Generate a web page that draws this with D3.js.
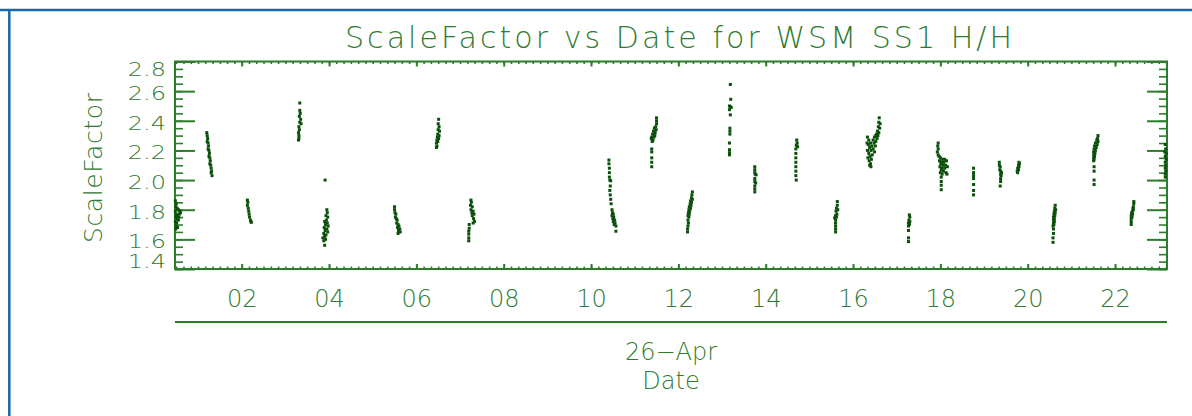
<html>
<head>
  <title>ScaleFactor vs Date for WSM SS1 H/H</title>
  <script src="https://d3js.org/d3.v7.min.js"></script>
  <style>
  body { margin: 0; background: #fff; }
  text {
    font-family: "DejaVu Sans", sans-serif;
    font-weight: 200;
    fill: #2f7a2f;
  }
  .frame { stroke: #1b67a6; stroke-width: 2.5px; fill: none; }
  .box { stroke: #2b7d2b; stroke-width: 2px; fill: none; }
  .ticks line { stroke: #2b7d2b; stroke-width: 1.6px; }
  .major line { stroke-width: 2px; }
  .ticks path { display: none; }
  .pt { fill: #0a500a; }
  </style>
</head>
<body>
<svg id="chart" width="1192" height="416"></svg>
<script>
// hour of day on 26-Apr, ScaleFactor  (one array per satellite pass)
const passA = [[0.48,1.86],[0.50,1.84],[0.49,1.82],[0.52,1.81],[0.48,1.79],[0.55,1.80],[0.58,1.79],[0.50,1.77],[0.53,1.76],[0.57,1.77],[0.49,1.75],[0.52,1.74],[0.55,1.73],[0.48,1.72],[0.51,1.71],[0.50,1.69],[0.53,1.68],[0.49,1.67],[0.60,1.78],[0.56,1.75]];
const passB = [[1.20,2.32],[1.21,2.30],[1.22,2.28],[1.21,2.26],[1.23,2.25],[1.24,2.23],[1.23,2.21],[1.25,2.20],[1.26,2.18],[1.25,2.16],[1.27,2.15],[1.28,2.13],[1.27,2.11],[1.29,2.10],[1.30,2.08],[1.31,2.06],[1.30,2.05],[1.32,2.03]];
const passC = [[2.13,1.865],[2.14,1.85],[2.13,1.83],[2.15,1.81],[2.16,1.79],[2.17,1.77],[2.18,1.75],[2.20,1.73],[2.21,1.72],[2.22,1.715]];
const passD = [[3.33,2.52],[3.33,2.47],[3.34,2.45],[3.32,2.43],[3.35,2.41],[3.33,2.39],[3.36,2.38],[3.31,2.36],[3.32,2.34],[3.30,2.32],[3.31,2.30],[3.31,2.28],[3.30,2.27]];
const passE = [[3.91,2.00]];
const passF = [[3.95,1.80],[3.96,1.78],[3.93,1.76],[3.97,1.75],[3.94,1.73],[3.90,1.72],[3.96,1.71],[3.92,1.70],[3.98,1.69],[3.89,1.68],[3.95,1.67],[3.91,1.66],[3.97,1.65],[3.88,1.64],[3.93,1.63],[3.90,1.62],[3.86,1.61],[3.92,1.60],[3.88,1.59],[3.90,1.56]];
const passG = [[5.50,1.82],[5.50,1.80],[5.51,1.78],[5.53,1.77],[5.52,1.75],[5.54,1.74],[5.56,1.73],[5.55,1.71],[5.58,1.70],[5.60,1.69],[5.57,1.68],[5.62,1.67],[5.59,1.66],[5.63,1.65],[5.58,1.64]];
const passH = [[6.51,2.41],[6.50,2.38],[6.52,2.36],[6.50,2.34],[6.53,2.33],[6.49,2.31],[6.52,2.30],[6.48,2.29],[6.51,2.28],[6.47,2.27],[6.49,2.26],[6.46,2.25],[6.47,2.23],[6.46,2.22]];
const passI = [[7.25,1.865],[7.26,1.85],[7.24,1.83],[7.28,1.82],[7.25,1.80],[7.30,1.79],[7.27,1.78],[7.32,1.77],[7.28,1.76],[7.31,1.74],[7.33,1.72],[7.30,1.71],[7.21,1.70],[7.21,1.675],[7.20,1.655],[7.20,1.635],[7.20,1.61],[7.20,1.59]];
const passJ = [[10.41,2.135],[10.41,2.11],[10.42,2.08],[10.42,2.05],[10.42,2.02],[10.43,2.00],[10.45,1.995],[10.44,1.96],[10.43,1.93],[10.44,1.90],[10.45,1.87],[10.46,1.84],[10.48,1.80],[10.49,1.78],[10.51,1.77],[10.48,1.76],[10.52,1.75],[10.50,1.74],[10.54,1.73],[10.51,1.72],[10.55,1.71],[10.53,1.70],[10.57,1.69],[10.57,1.655]];
const passK = [[11.50,2.42],[11.50,2.40],[11.50,2.38],[11.48,2.36],[11.45,2.35],[11.49,2.34],[11.43,2.33],[11.47,2.32],[11.41,2.31],[11.46,2.30],[11.39,2.29],[11.44,2.29],[11.38,2.28],[11.42,2.27],[11.40,2.26],[11.39,2.21],[11.39,2.19],[11.39,2.15],[11.39,2.12],[11.39,2.09]];
const passL = [[12.32,1.92],[12.31,1.90],[12.30,1.88],[12.32,1.87],[12.28,1.86],[12.30,1.85],[12.27,1.84],[12.29,1.83],[12.25,1.82],[12.28,1.81],[12.24,1.80],[12.26,1.79],[12.23,1.78],[12.25,1.77],[12.22,1.76],[12.24,1.75],[12.22,1.73],[12.23,1.71],[12.22,1.69],[12.21,1.67],[12.21,1.65]];
const passM = [[13.19,2.645],[13.20,2.545],[13.17,2.50],[13.19,2.495],[13.21,2.49],[13.17,2.475],[13.19,2.44],[13.18,2.35],[13.18,2.33],[13.18,2.31],[13.17,2.25],[13.17,2.205],[13.17,2.185],[13.17,2.17]];
const passN = [[13.75,2.09],[13.75,2.07],[13.75,2.05],[13.76,2.04],[13.78,2.035],[13.75,2.01],[13.75,1.99],[13.77,1.98],[13.75,1.96],[13.75,1.94],[13.75,1.92]];
const passO = [[14.71,2.27],[14.72,2.25],[14.70,2.235],[14.73,2.225],[14.69,2.21],[14.69,2.18],[14.69,2.15],[14.69,2.12],[14.69,2.09],[14.69,2.06],[14.69,2.03],[14.70,2.00]];
const passP = [[15.64,1.855],[15.64,1.83],[15.62,1.81],[15.65,1.80],[15.61,1.79],[15.63,1.77],[15.60,1.76],[15.62,1.75],[15.58,1.745],[15.60,1.73],[15.60,1.71],[15.60,1.69],[15.60,1.67],[15.60,1.65]];
const passQ = [[16.60,2.42],[16.59,2.39],[16.62,2.38],[16.58,2.36],[16.61,2.35],[16.56,2.33],[16.59,2.32],[16.54,2.31],[16.57,2.30],[16.52,2.30],[16.33,2.29],[16.49,2.29],[16.55,2.28],[16.36,2.27],[16.46,2.27],[16.52,2.26],[16.32,2.25],[16.40,2.25],[16.48,2.25],[16.35,2.24],[16.43,2.23],[16.51,2.23],[16.38,2.22],[16.46,2.21],[16.33,2.20],[16.41,2.20],[16.49,2.19],[16.36,2.18],[16.44,2.17],[16.39,2.16],[16.34,2.15],[16.42,2.14],[16.37,2.13],[16.40,2.11],[16.38,2.10],[16.41,2.09]];
const passR = [[17.29,1.765],[17.30,1.75],[17.28,1.73],[17.30,1.72],[17.27,1.71],[17.29,1.70],[17.27,1.69],[17.27,1.66],[17.27,1.61],[17.27,1.585]];
const passS = [[17.95,2.25],[17.94,2.23],[17.95,2.21],[17.93,2.19],[17.95,2.17],[17.97,2.16],[18.00,2.15],[18.05,2.14],[18.10,2.14],[17.98,2.13],[18.03,2.12],[18.08,2.12],[18.14,2.13],[18.01,2.11],[18.06,2.10],[18.12,2.10],[17.99,2.09],[18.04,2.08],[18.10,2.08],[18.16,2.09],[18.02,2.07],[18.07,2.06],[18.13,2.05],[18.00,2.05],[18.04,2.04],[18.15,2.04],[18.02,2.02],[18.02,1.99],[18.02,1.965],[18.02,1.935]];
const passT = [[18.76,2.08],[18.76,2.05],[18.76,2.03],[18.76,2.01],[18.76,1.97],[18.76,1.93],[18.76,1.90]];
const passU = [[19.35,2.12],[19.35,2.10],[19.37,2.09],[19.36,2.07],[19.38,2.06],[19.40,2.05],[19.38,2.04],[19.39,2.03],[19.38,2.01],[19.38,1.99],[19.37,1.96]];
const passV = [[19.80,2.12],[19.81,2.11],[19.79,2.10],[19.80,2.09],[19.77,2.08],[19.79,2.07],[19.76,2.06],[19.77,2.05]];
const passW = [[20.63,1.83],[20.62,1.81],[20.64,1.80],[20.61,1.79],[20.63,1.78],[20.60,1.77],[20.62,1.76],[20.59,1.75],[20.61,1.74],[20.59,1.73],[20.61,1.72],[20.59,1.71],[20.60,1.70],[20.58,1.69],[20.59,1.67],[20.59,1.64],[20.58,1.61],[20.58,1.58]];
const passX = [[21.61,2.30],[21.60,2.28],[21.58,2.27],[21.61,2.26],[21.55,2.25],[21.59,2.24],[21.53,2.23],[21.57,2.22],[21.52,2.21],[21.55,2.20],[21.51,2.19],[21.54,2.18],[21.51,2.17],[21.53,2.16],[21.51,2.15],[21.52,2.14],[21.51,2.13],[21.52,2.09],[21.52,2.06],[21.52,2.00],[21.52,1.97]];
const passY = [[22.43,1.855],[22.43,1.84],[22.42,1.82],[22.41,1.81],[22.42,1.80],[22.40,1.79],[22.38,1.78],[22.40,1.77],[22.37,1.76],[22.39,1.75],[22.37,1.74],[22.37,1.72],[22.37,1.70]];
const passZ = [[23.15,2.24],[23.16,2.21],[23.14,2.19],[23.17,2.18],[23.15,2.16],[23.17,2.14],[23.15,2.12],[23.16,2.10],[23.15,2.08],[23.16,2.06],[23.15,2.04],[23.15,2.02]];

const passes = [passA, passB, passC, passD, passE, passF, passG, passH, passI, passJ, passK, passL, passM,
                passN, passO, passP, passQ, passR, passS, passT, passU, passV, passW, passX, passY, passZ];

const hourTicks = [2, 4, 6, 8, 10, 12, 14, 16, 18, 20, 22];
const sfTicks = [1.4, 1.6, 1.8, 2.0, 2.2, 2.4, 2.6, 2.8];
const titleText = "ScaleFactor vs Date for WSM SS1 H/H";
const dayLabel = "26\u2212Apr";

const svg = d3.select("#chart");
const plot = { left: 175, right: 1167, top: 61.5, bottom: 269 };

const x = d3.scaleLinear().domain([0.4725, 23.19]).range([plot.left, plot.right]);
const y = d3.scaleLinear().domain([1.4, 2.8]).range([plot.bottom, plot.top]);

// page frame
svg.append("path").attr("class", "frame")
  .attr("d", "M0,10H1192M9.3,10V416");

// title
svg.append("text")
  .attr("x", 678.5).attr("y", 48)
  .attr("text-anchor", "middle")
  .attr("font-size", 30)
  .attr("textLength", 667)
  .attr("lengthAdjust", "spacing")
  .text(titleText);

// minor ticks
const minorHours = d3.range(3, 140).map(i => i / 6).filter(h => h > 0.48 && h < 23.18);
const minorSF = d3.range(28, 57).map(i => i * 0.05);

svg.append("g").attr("class", "ticks")
  .attr("transform", "translate(0," + plot.bottom + ")")
  .call(d3.axisBottom(x).tickValues(minorHours).tickSize(-2.5).tickFormat(""));
svg.append("g").attr("class", "ticks")
  .attr("transform", "translate(0," + plot.top + ")")
  .call(d3.axisTop(x).tickValues(minorHours).tickSize(-2.5).tickFormat(""));
svg.append("g").attr("class", "ticks")
  .attr("transform", "translate(" + plot.left + ",0)")
  .call(d3.axisLeft(y).tickValues(minorSF).tickSize(-8).tickFormat(""));
svg.append("g").attr("class", "ticks")
  .attr("transform", "translate(" + plot.right + ",0)")
  .call(d3.axisRight(y).tickValues(minorSF).tickSize(-8).tickFormat(""));

// major ticks
svg.append("g").attr("class", "ticks major xlab")
  .attr("transform", "translate(0," + plot.bottom + ")")
  .call(d3.axisBottom(x).tickValues(hourTicks).tickSize(-5).tickPadding(21)
    .tickFormat(d3.format("02d")));
svg.append("g").attr("class", "ticks major")
  .attr("transform", "translate(0," + plot.top + ")")
  .call(d3.axisTop(x).tickValues(hourTicks).tickSize(-5).tickFormat(""));
svg.append("g").attr("class", "ticks major ylab")
  .attr("transform", "translate(" + plot.left + ",0)")
  .call(d3.axisLeft(y).tickValues(sfTicks).tickSize(-20).tickPadding(9)
    .tickFormat(d3.format(".1f")));
svg.append("g").attr("class", "ticks major")
  .attr("transform", "translate(" + plot.right + ",0)")
  .call(d3.axisRight(y).tickValues(sfTicks).tickSize(-20).tickFormat(""));

svg.selectAll(".xlab text, .ylab text")
  .attr("font-family", null).attr("fill", null)
  .attr("font-size", 24);
// end labels are pushed inside the axis range, labels are squat
svg.selectAll(".ylab text")
  .attr("transform", "scale(1,0.8)")
  .attr("y", d => d === 2.8 ? 10 : d === 1.4 ? -9 : 3);

// plot box
svg.append("rect").attr("class", "box")
  .attr("x", plot.left).attr("y", plot.top)
  .attr("width", plot.right - plot.left).attr("height", plot.bottom - plot.top);

// second date axis line
svg.append("line").attr("class", "box")
  .attr("x1", plot.left).attr("x2", plot.right)
  .attr("y1", 322).attr("y2", 322);

svg.append("text")
  .attr("x", (plot.left + plot.right) / 2).attr("y", 360)
  .attr("text-anchor", "middle").attr("font-size", 24)
  .text(dayLabel);
svg.append("text")
  .attr("x", (plot.left + plot.right) / 2).attr("y", 389)
  .attr("text-anchor", "middle").attr("font-size", 24)
  .text("Date");

// y title
svg.append("text")
  .attr("transform", "translate(102,168) rotate(-90)")
  .attr("text-anchor", "middle").attr("font-size", 25)
  .attr("textLength", 150).attr("lengthAdjust", "spacing")
  .text("ScaleFactor");

// data points
svg.append("g").selectAll("rect")
  .data(passes.flat())
  .join("rect")
  .attr("class", "pt")
  .attr("x", d => x(d[0]) - 1.5)
  .attr("y", d => y(d[1]) - 1.5)
  .attr("width", 3)
  .attr("height", 3);
</script>
</body>
</html>
